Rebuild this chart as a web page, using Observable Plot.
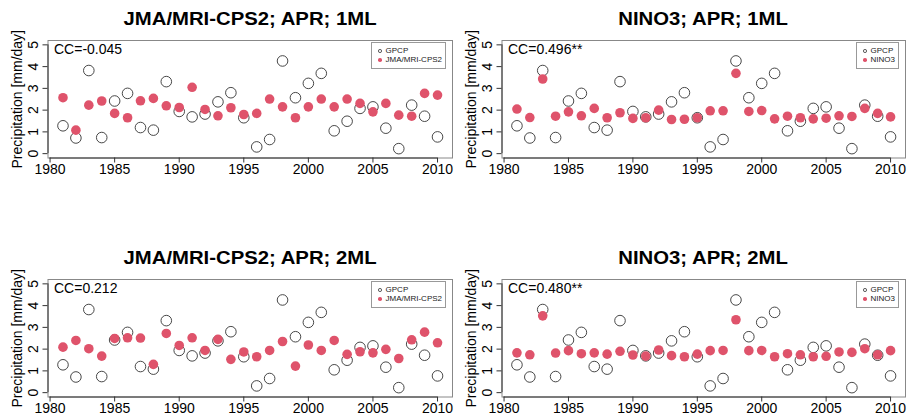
<!DOCTYPE html>
<html><head><meta charset="utf-8">
<script src="https://cdn.jsdelivr.net/npm/d3@7"></script>
<script src="https://cdn.jsdelivr.net/npm/@observablehq/plot@0.6"></script>
<style>
html,body{margin:0;padding:0;background:#fff;}
#root{position:relative;width:907px;height:415px;overflow:hidden;font-family:"Liberation Sans",Arial,Helvetica,sans-serif;}
.title{position:absolute;font-weight:bold;font-size:17.5px;line-height:17.5px;white-space:nowrap;text-align:center;color:#000;}
.title span{display:inline-block;transform:scaleX(1.16);}
.legend{position:absolute;border:1px solid #999;background:#fff;padding:4px 3px 4px 6px;font-size:8px;line-height:8.5px;color:#222;}
.legend .row{display:flex;align-items:center;white-space:nowrap;}
.legend .sym{width:3.6px;height:3.6px;border-radius:50%;margin-right:4px;box-sizing:border-box;flex:none;}
#root svg{position:absolute;}
</style>
</head><body>
<div id="root"></div>
<script>
const years = [1981,1982,1983,1984,1985,1986,1987,1988,1989,1990,1991,1992,1993,1994,1995,1996,1997,1998,1999,2000,2001,2002,2003,2004,2005,2006,2007,2008,2009,2010];
const gpcp = [1.28,0.72,3.82,0.74,2.42,2.77,1.20,1.08,3.31,1.94,1.69,1.82,2.38,2.80,1.65,0.31,0.65,4.26,2.57,3.23,3.69,1.05,1.49,2.08,2.15,1.17,0.23,2.23,1.72,0.77];
const jma1ML = [2.57,1.08,2.23,2.42,1.85,1.65,2.43,2.54,2.20,2.12,3.05,2.03,1.74,2.11,1.80,1.85,2.51,2.15,1.65,2.15,2.51,2.15,2.51,2.31,1.92,2.31,1.77,1.72,2.77,2.69];
const nino1ML = [2.05,1.66,3.43,1.72,1.92,1.74,2.08,1.65,1.88,1.62,1.65,2.00,1.57,1.58,1.65,1.97,1.97,3.69,1.94,1.98,1.60,1.72,1.65,1.60,1.63,1.74,1.71,2.08,1.85,1.69];
const jma2ML = [2.09,2.40,2.02,1.68,2.49,2.52,2.51,1.30,2.72,2.17,2.52,1.94,2.45,1.53,1.87,1.65,1.94,2.35,1.22,2.19,1.94,2.40,1.76,1.88,1.83,1.99,1.57,2.43,2.78,2.29];
const nino2ML = [1.83,1.74,3.53,1.82,1.93,1.79,1.83,1.77,1.90,1.73,1.68,1.96,1.70,1.65,1.77,1.93,1.94,3.35,1.93,1.94,1.65,1.79,1.74,1.65,1.67,1.87,1.85,2.02,1.74,1.93];
const titles = ["JMA/MRI-CPS2; APR; 1ML","NINO3; APR; 1ML","JMA/MRI-CPS2; APR; 2ML","NINO3; APR; 2ML"];
const ccLabels = ["CC=-0.045","CC=0.496**","CC=0.212","CC=0.480**"];
const modelNames = ["JMA/MRI-CPS2","NINO3","JMA/MRI-CPS2","NINO3"];
const obsName = "GPCP";
const yLabel = "Precipitation [mm/day]";
const xTicks = [1980,1985,1990,1995,2000,2005,2010];
const yTicks = [0,1,2,3,4,5];

const modelSeries = [jma1ML, nino1ML, jma2ML, nino2ML];
const xLim = [years[0] - 0.04*(years[years.length-1]-years[0]), years[years.length-1] + 0.04*(years[years.length-1]-years[0])];
const yLim = [yTicks[0] - 0.04*(yTicks[yTicks.length-1]-yTicks[0]), yTicks[yTicks.length-1] + 0.04*(yTicks[yTicks.length-1]-yTicks[0])];
const RED = "#DF536B";
const FONT = '"Liberation Sans", Arial, Helvetica, sans-serif';
const root = document.getElementById("root");

const M = {left: 47.5, right: 2, top: 12, bottom: 25.5};
const H = 155;

modelSeries.forEach((series, k) => {
  const col = k % 2, row = Math.floor(k / 2);
  const panelLeft = col * 454;
  const W = col === 0 ? 454 : 453;
  const svgTop = row === 0 ? 28 : 267;
  const data = years.map((yr, i) => ({year: yr, obs: gpcp[i], mod: series[i]}));
  const plot = Plot.plot({
    width: W, height: H,
    marginLeft: M.left, marginRight: M.right, marginTop: M.top, marginBottom: M.bottom,
    x: {domain: xLim},
    y: {domain: yLim},
    style: {fontFamily: FONT, fontSize: "14px", color: "#000", background: "transparent", overflow: "visible"},
    marks: [
      Plot.frame({stroke: "#888", strokeWidth: 1}),
      Plot.ruleY([{x1: xTicks[0], x2: xTicks[xTicks.length-1], y: yLim[0]}], {x1: "x1", x2: "x2", y: "y", stroke: "#333"}),
      Plot.ruleX([{y1: yTicks[0], y2: yTicks[yTicks.length-1], x: xLim[0]}], {y1: "y1", y2: "y2", x: "x", stroke: "#333"}),
      Plot.axisX(xTicks, {tickSize: 5, tickPadding: 1.5, tickFormat: d => String(d), fontSize: 14, stroke: "#333", fill: "#000"}),
      Plot.axisY(yTicks, {tickSize: 5, stroke: "#333", fill: "none"}),
      Plot.text(yTicks, {y: d => d, text: d => String(d), frameAnchor: "left", textAnchor: "middle", lineAnchor: "middle", rotate: -90, dx: -14.5, fontSize: 14, fill: "#000"}),
      Plot.text([yLabel], {frameAnchor: "left", textAnchor: "middle", lineAnchor: "middle", rotate: -90, dx: -30, fontSize: 14, fill: "#000"}),
      Plot.dot(data, {x: "year", y: "obs", r: 5.3, stroke: "#333", strokeWidth: 0.9, fill: "none"}),
      Plot.dot(data, {x: "year", y: "mod", r: 4.8, fill: RED, stroke: "none"}),
      Plot.text([ccLabels[k]], {frameAnchor: "top-left", dx: 6, dy: 4, textAnchor: "start", lineAnchor: "top", fontSize: 14, fill: "#000"})
    ]
  });
  plot.style.left = panelLeft + "px";
  plot.style.top = svgTop + "px";
  root.appendChild(plot);

  const boxLeft = panelLeft + M.left, boxRight = panelLeft + W - M.right;
  const boxTop = svgTop + M.top;
  const t = document.createElement("div");
  t.className = "title";
  t.style.left = boxLeft + "px";
  t.style.width = (boxRight - boxLeft) + "px";
  t.style.top = (boxTop - 29) + "px";
  const sp = document.createElement("span");
  sp.textContent = titles[k];
  t.appendChild(sp);
  root.appendChild(t);

  const lg = document.createElement("div");
  lg.className = "legend";
  lg.style.top = (boxTop + 2) + "px";
  lg.style.right = (907 - (boxRight - 6)) + "px";
  const r1 = document.createElement("div"); r1.className = "row";
  const s1 = document.createElement("div"); s1.className = "sym"; s1.style.border = "0.8px solid #444";
  r1.appendChild(s1); r1.appendChild(document.createTextNode(obsName));
  const r2 = document.createElement("div"); r2.className = "row";
  const s2 = document.createElement("div"); s2.className = "sym"; s2.style.background = RED;
  r2.appendChild(s2); r2.appendChild(document.createTextNode(modelNames[k]));
  lg.appendChild(r1); lg.appendChild(r2);
  root.appendChild(lg);
});
</script>
</body></html>
